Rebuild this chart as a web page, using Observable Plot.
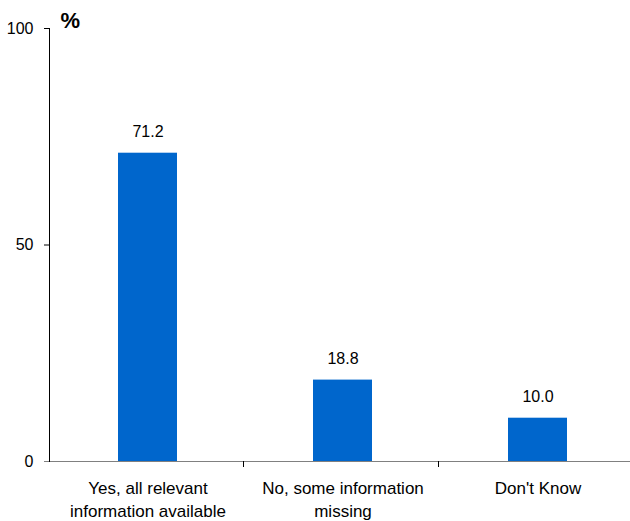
<!DOCTYPE html>
<html>
<head>
<meta charset="utf-8">
<script src="https://cdn.jsdelivr.net/npm/d3@7"></script>
<script src="https://cdn.jsdelivr.net/npm/@observablehq/plot@0.6"></script>
<style>
  html, body { margin: 0; padding: 0; background: #fff; }
  #chart svg { display: block; }
</style>
</head>
<body>
<div id="chart"></div>
<script>
const categories = ["Yes, all relevant\ninformation available", "No, some information\nmissing", "Don't Know"];
const values = [71.2, 18.8, 10.0];
const valueLabels = ["71.2", "18.8", "10.0"];
const yTicks = [0, 50, 100];
const unitLabel = "%";

const data = categories.map((c, i) => ({category: c, value: values[i], label: valueLabels[i]}));

// custom axis lines: y-axis line, gray baseline, category boundary ticks
function axisLines(index, scales, values, dimensions) {
  const {width, marginLeft} = dimensions;
  const x = scales.x, y = scales.y;
  const bw = x.bandwidth ? x.bandwidth() : (x(categories[1]) - x(categories[0])) * 0.3;
  const g = d3.create("svg:g");
  const y0 = y(0), y1 = y(100);
  g.append("line").attr("x1", marginLeft - 5).attr("x2", width)
    .attr("y1", y0 + 0.5).attr("y2", y0 + 0.5).attr("stroke", "#808080");
  g.append("line").attr("x1", marginLeft + 0.5).attr("x2", marginLeft + 0.5)
    .attr("y1", y1).attr("y2", y0 + 1).attr("stroke", "#000");
  for (let i = 1; i < categories.length; i++) {
    const bx = Math.round((x(categories[i - 1]) + bw + x(categories[i])) / 2) - 1.5;
    g.append("line").attr("x1", bx).attr("x2", bx)
      .attr("y1", y0).attr("y2", y0 + 6).attr("stroke", "#000");
  }
  return g.node();
}

const chart = Plot.plot({
  width: 630,
  height: 521,
  marginTop: 28,
  marginBottom: 60,
  marginLeft: 49,
  marginRight: -5,
  style: {fontFamily: "'Liberation Sans', Arial, sans-serif", fontSize: "16px", color: "#000", background: "#fff"},
  x: {domain: categories, paddingInner: 0.7, paddingOuter: 0.35},
  y: {domain: [0, 100]},
  marks: [
    Plot.barY(data, {x: "category", y: "value", fill: "#0066cc"}),
    Plot.text(data, {x: "category", y: "value", text: "label", dy: -16, lineAnchor: "bottom", fontSize: 16, fill: "#000"}),
    Plot.axisY({ticks: yTicks, tickSize: 5, tickPadding: 11, fontSize: 16, label: null}),
    Plot.axisX({tickSize: 0, tickPadding: 15, fontSize: 17, lineHeight: 1.41, label: null}),
    Plot.text([unitLabel], {frameAnchor: "top-left", text: d => d, dx: 11, dy: -1, lineAnchor: "bottom", textAnchor: "start", fontSize: 22, fontWeight: "bold", fill: "#000"}),
    axisLines
  ]
});
document.getElementById("chart").appendChild(chart);
</script>
</body>
</html>
